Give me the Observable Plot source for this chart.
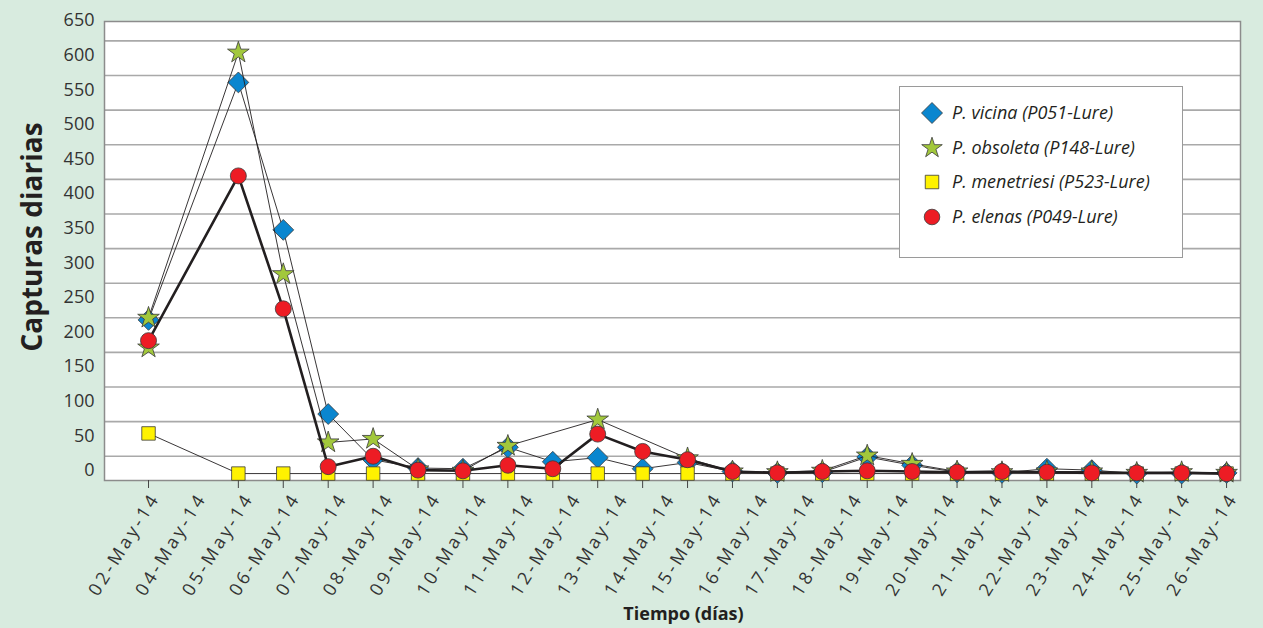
<!DOCTYPE html>
<html><head><meta charset="utf-8">
<script src="https://cdn.jsdelivr.net/npm/d3@7"></script>
<script src="https://cdn.jsdelivr.net/npm/@observablehq/plot@0.6"></script>
<style>
html,body{margin:0;padding:0;background:#d8ebdf;}
#wrap{position:relative;width:1263px;height:628px;overflow:hidden;background:#d8ebdf;}
#legend{position:absolute;left:899px;top:86px;}
</style></head><body><div id="wrap"></div>
<script>
// Days of May 2014 with observations (x positions) and the category labels shown under the axis
const days = [2,4,5,6,7,8,9,10,11,12,13,14,15,16,17,18,19,20,21,22,23,24,25,26];
const dayLabels = ["02-May-14","04-May-14","05-May-14","06-May-14","07-May-14","08-May-14","09-May-14","10-May-14","11-May-14","12-May-14","13-May-14","14-May-14","15-May-14","16-May-14","17-May-14","18-May-14","19-May-14","20-May-14","21-May-14","22-May-14","23-May-14","24-May-14","25-May-14","26-May-14"];
const yTicks = [0,50,100,150,200,250,300,350,400,450,500,550,600,650];
const yGridValues = [25,75,125,175,225,275,325,375,425,475,525,575,625];

const seriesNames = ["P. vicina (P051-Lure)","P. obsoleta (P148-Lure)","P. menetriesi (P523-Lure)","P. elenas (P049-Lure)"];
const vicina     = [222,565,352,86,20,8,7,38,17,23,7,16,3,1,2,24,12,2,1,7,5,0,0,1];
const obsoleta   = [225,608,288,45,50,6,4,40,null,78,null,22,3,2,4,26,14,3,2,3,3,1,2,1];
const menetriesi = [58,0,0,0,0,0,0,0,0,0,0,0,0,0,0,0,0,0,0,0,0,0,0,0];
const elenas     = [192,430,238,10,25,5,4,12,7,57,32,20,3,1,3,4,3,2,3,2,1,1,1,0];
// an extra unconnected obsoleta marker visible on 02-May
const obsoletaExtraDays = [2];
const obsoletaExtraValues = [182];

const seriesValues = [vicina, obsoleta, menetriesi, elenas];
const symbols = ["diamond2","star","square","circle"];
const fills = ["#0a86cf","#a2c83c","#fff200","#ed1c24"];
const radii = [9.4, 6.8, 7.6, 8];
const lineWidths = [0.9, 0.9, 0.9, 2.6];

const rows = seriesValues.map((vals, s) => days.map((d, i) => ({series: seriesNames[s], day: d, value: vals[i]})).filter(r => r.value != null));
const extraRows = obsoletaExtraDays.map((d, i) => ({day: d, value: obsoletaExtraValues[i]}));

const marks = [
  Plot.frame({fill: "white"}),
  Plot.gridY({ticks: yGridValues, stroke: "#a9a9a9", strokeOpacity: 1, strokeWidth: 1.6}),
  Plot.frame({stroke: "#8c8c8c", strokeWidth: 1.5}),
  Plot.axisY({ticks: yTicks, tickSize: 0, tickPadding: 10, fontSize: 18, dy: -3, label: null, fill: "#333"}),
  Plot.axisX({ticks: days, tickSize: 8, tickFormat: () => "", label: null, stroke: "#444"}),
  Plot.text(dayLabels, {
    x: (d, i) => days[0] + i * (days[days.length - 1] - days[0]) / (dayLabels.length - 1),
    frameAnchor: "bottom", text: d => d, rotate: -58, textAnchor: "end", lineAnchor: "middle",
    dx: 7, dy: 14, fontSize: 18, fill: "#333"
  })
];
seriesValues.forEach((vals, s) => {
  marks.push(Plot.line(rows[s], {x: "day", y: "value", stroke: "#231f20", strokeWidth: lineWidths[s]}));
  if (s === 1) marks.push(Plot.dot(extraRows, {x: "day", y: "value", symbol: "star", r: radii[1], fill: fills[1], stroke: "#3a3a3a", strokeWidth: 0.8}));
  marks.push(Plot.dot(rows[s], {x: "day", y: "value", symbol: symbols[s], r: radii[s], fill: fills[s], stroke: "#3a3a3a", strokeWidth: 0.8}));
});
marks.push(Plot.text(["Capturas diarias"], {text: d => d, frameAnchor: "left", textAnchor: "middle", rotate: -90, dx: -71, dy: -14, fontSize: 28, fontWeight: "bold", fill: "#231f20"}));
marks.push(Plot.text(["Tiempo (días)"], {text: d => d, frameAnchor: "bottom", textAnchor: "middle", dx: 11, dy: 139, fontSize: 18, fontWeight: "bold", fill: "#231f20"}));

const chart = Plot.plot({
  width: 1263, height: 628,
  marginLeft: 104, marginRight: 23, marginTop: 21, marginBottom: 148,
  style: {background: "transparent", fontFamily: "'Open Sans', sans-serif", overflow: "visible"},
  x: {type: "linear", domain: [1.02, 26.31]},
  y: {domain: [-10, 653]},
  marks
});
d3.select(chart).selectAll("text").filter(function() { return dayLabels.includes(this.textContent); })
  .style("letter-spacing", "3.3px");
document.getElementById("wrap").appendChild(chart);

// Legend
const lg = d3.select("#wrap").append("svg").attr("id", "legend").attr("width", 284).attr("height", 172);
lg.append("rect").attr("x", 0.5).attr("y", 0.5).attr("width", 283).attr("height", 171).attr("fill", "white").attr("stroke", "#9a9a9a");
const legendSizes = [null, 10.8*10.8/0.8908130915292852, 13.5*13.5, Math.PI*7.8*7.8];
const rowY = [27, 62, 96, 131];
seriesNames.forEach((name, s) => {
  const g = lg.append("g").attr("transform", `translate(33,${rowY[s]})`);
  if (s === 0) {
    g.append("path").attr("d", "M0,-10.5L10.5,0L0,10.5L-10.5,0Z").attr("fill", fills[s]).attr("stroke", "#3a3a3a").attr("stroke-width", 0.8);
  } else {
    const t = [null, d3.symbolStar, d3.symbolSquare, d3.symbolCircle][s];
    g.append("path").attr("d", d3.symbol(t, legendSizes[s])()).attr("fill", fills[s]).attr("stroke", "#3a3a3a").attr("stroke-width", 0.8);
  }
  lg.append("text").attr("x", 53).attr("y", rowY[s]).attr("dy", "0.35em")
    .attr("font-family", "'Open Sans', sans-serif").attr("font-style", "italic").attr("font-size", 18).attr("fill", "#231f20").text(name);
});
</script>
</body></html>
